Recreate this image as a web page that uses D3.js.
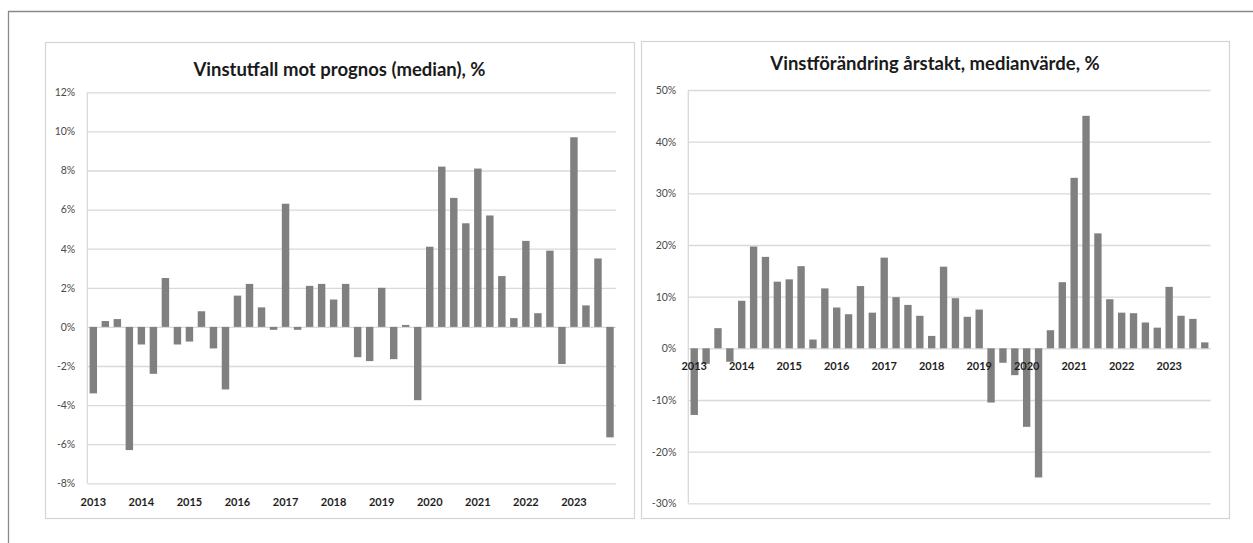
<!DOCTYPE html>
<html>
<head>
<meta charset="utf-8">
<script src="https://cdn.jsdelivr.net/npm/d3@7"></script>
<style>
  html, body { margin: 0; padding: 0; background: #fff; }
  svg { display: block; }
</style>
</head>
<body>
<svg id="chart" width="1253" height="543"></svg>
<script>
// Quarterly categories 2013 Q1 – 2023 Q4
const years = ["2013","2014","2015","2016","2017","2018","2019","2020","2021","2022","2023"];
const quarters = years.flatMap(y => ["Q1","Q2","Q3","Q4"].map(q => y + q));

// Earnings outcome vs. forecast (median), %
const outcomeVsForecast = [
  -3.4, 0.3, 0.4, -6.3,
  -0.9, -2.4, 2.5, -0.9,
  -0.75, 0.8, -1.1, -3.2,
  1.6, 2.2, 1.0, -0.15,
  6.3, -0.15, 2.1, 2.2,
  1.4, 2.2, -1.55, -1.75,
  2.0, -1.65, 0.1, -3.75,
  4.1, 8.2, 6.6, 5.3,
  8.1, 5.7, 2.6, 0.45,
  4.4, 0.7, 3.9, -1.9,
  9.7, 1.1, 3.5, -5.65
];

// Annualised earnings change, median value, %
const earningsChangeYoY = [
  -12.9, -3.0, 3.9, -2.6,
  9.2, 19.7, 17.7, 12.9,
  13.35, 15.9, 1.7, 11.6,
  7.9, 6.6, 12.05, 6.9,
  17.55, 9.9, 8.4, 6.3,
  2.4, 15.8, 9.7, 6.1,
  7.5, -10.5, -2.8, -5.2,
  -15.2, -25.0, 3.5, 12.8,
  33.0, 45.0, 22.25, 9.5,
  6.9, 6.8, 5.0, 4.0,
  11.9, 6.3, 5.7, 1.15
];

const leftTicks = [-8, -6, -4, -2, 0, 2, 4, 6, 8, 10, 12];
const rightTicks = [-30, -20, -10, 0, 10, 20, 30, 40, 50];
const yearTickValues = years.map(y => y + "Q1");

const titles = ["Vinstutfall mot prognos (median), %", "Vinstförändring årstakt, medianvärde, %"];

const svg = d3.select("#chart");

// outer frame: top and left rule
svg.append("line").attr("x1", 8).attr("x2", 1253).attr("y1", 11.5).attr("y2", 11.5)
  .attr("stroke", "#8a8a8a").attr("stroke-width", 1.3);
svg.append("line").attr("x1", 8.5).attr("x2", 8.5).attr("y1", 11).attr("y2", 543)
  .attr("stroke", "#8a8a8a").attr("stroke-width", 1.3);

const FONT = "Lato, 'Open Sans', 'DejaVu Sans', sans-serif";

function drawPanel(cfg) {
  const g = svg.append("g");

  // panel border
  g.append("rect")
    .attr("x", cfg.box[0] + 0.5).attr("y", cfg.box[1] + 0.5)
    .attr("width", cfg.box[2] - cfg.box[0]).attr("height", cfg.box[3] - cfg.box[1])
    .attr("fill", "#fff").attr("stroke", "#d4d4d4").attr("stroke-width", 1.2);

  // title
  g.append("text")
    .attr("x", (cfg.box[0] + cfg.box[2]) / 2).attr("y", cfg.titleY)
    .attr("text-anchor", "middle")
    .attr("font-family", FONT).attr("font-weight", 700).attr("font-size", cfg.titleSize)
    .attr("fill", "#1a1a1a")
    .text(cfg.title);

  const x = d3.scaleBand()
    .domain(quarters)
    .range([cfg.plot.left, cfg.plot.right])
    .paddingInner(0.38).paddingOuter(0.19);

  const y = d3.scaleLinear()
    .domain(d3.extent(cfg.ticks))
    .range([cfg.plot.bottom, cfg.plot.top]);

  // value axis with gridlines
  const yAxis = g.append("g")
    .attr("transform", `translate(${cfg.plot.left},0)`)
    .call(d3.axisLeft(y).tickValues(cfg.ticks)
      .tickSize(-(cfg.plot.right - cfg.plot.left))
      .tickPadding(12)
      .tickFormat(d => d + "%"));
  yAxis.select(".domain").remove();
  yAxis.selectAll(".tick line").attr("stroke", "#d9d9d9").attr("stroke-width", 1.3);
  yAxis.selectAll(".tick text")
    .attr("font-family", FONT).attr("font-size", 10.5).attr("fill", "#4a4a4a");

  // vertical axis rule
  g.append("line")
    .attr("x1", cfg.plot.left).attr("x2", cfg.plot.left)
    .attr("y1", cfg.plot.top).attr("y2", cfg.plot.bottom)
    .attr("stroke", "#d9d9d9").attr("stroke-width", 1.3);

  // bars
  g.append("g").selectAll("rect")
    .data(cfg.values.map((v, i) => ({ q: quarters[i], v })))
    .join("rect")
    .attr("x", d => x(d.q))
    .attr("width", x.bandwidth())
    .attr("y", d => y(Math.max(0, d.v)))
    .attr("height", d => Math.abs(y(d.v) - y(0)))
    .attr("fill", "#808080");

  // category axis: year labels under the first quarter
  const xAxis = g.append("g")
    .attr("transform", `translate(0,${cfg.xLabelY})`)
    .call(d3.axisBottom(x).tickValues(yearTickValues)
      .tickSize(0).tickPadding(0)
      .tickFormat(d => d.slice(0, 4)));
  xAxis.select(".domain").remove();
  xAxis.selectAll(".tick text")
    .attr("font-family", FONT).attr("font-weight", 700).attr("font-size", 11)
    .attr("fill", "#1e1e1e").attr("dy", "0.32em").attr("y", 0);
}

drawPanel({
  box: [45, 42, 634, 518],
  plot: { left: 87.3, right: 616, top: 92.3, bottom: 483.3 },
  ticks: leftTicks,
  values: outcomeVsForecast,
  title: titles[0],
  titleY: 76,
  titleSize: 18.5,
  xLabelY: 502
});

drawPanel({
  box: [641, 41, 1229, 518],
  plot: { left: 688.3, right: 1210.7, top: 90, bottom: 503.3 },
  ticks: rightTicks,
  values: earningsChangeYoY,
  title: titles[1],
  titleY: 70,
  titleSize: 18.5,
  xLabelY: 366.5
});
</script>
</body>
</html>
